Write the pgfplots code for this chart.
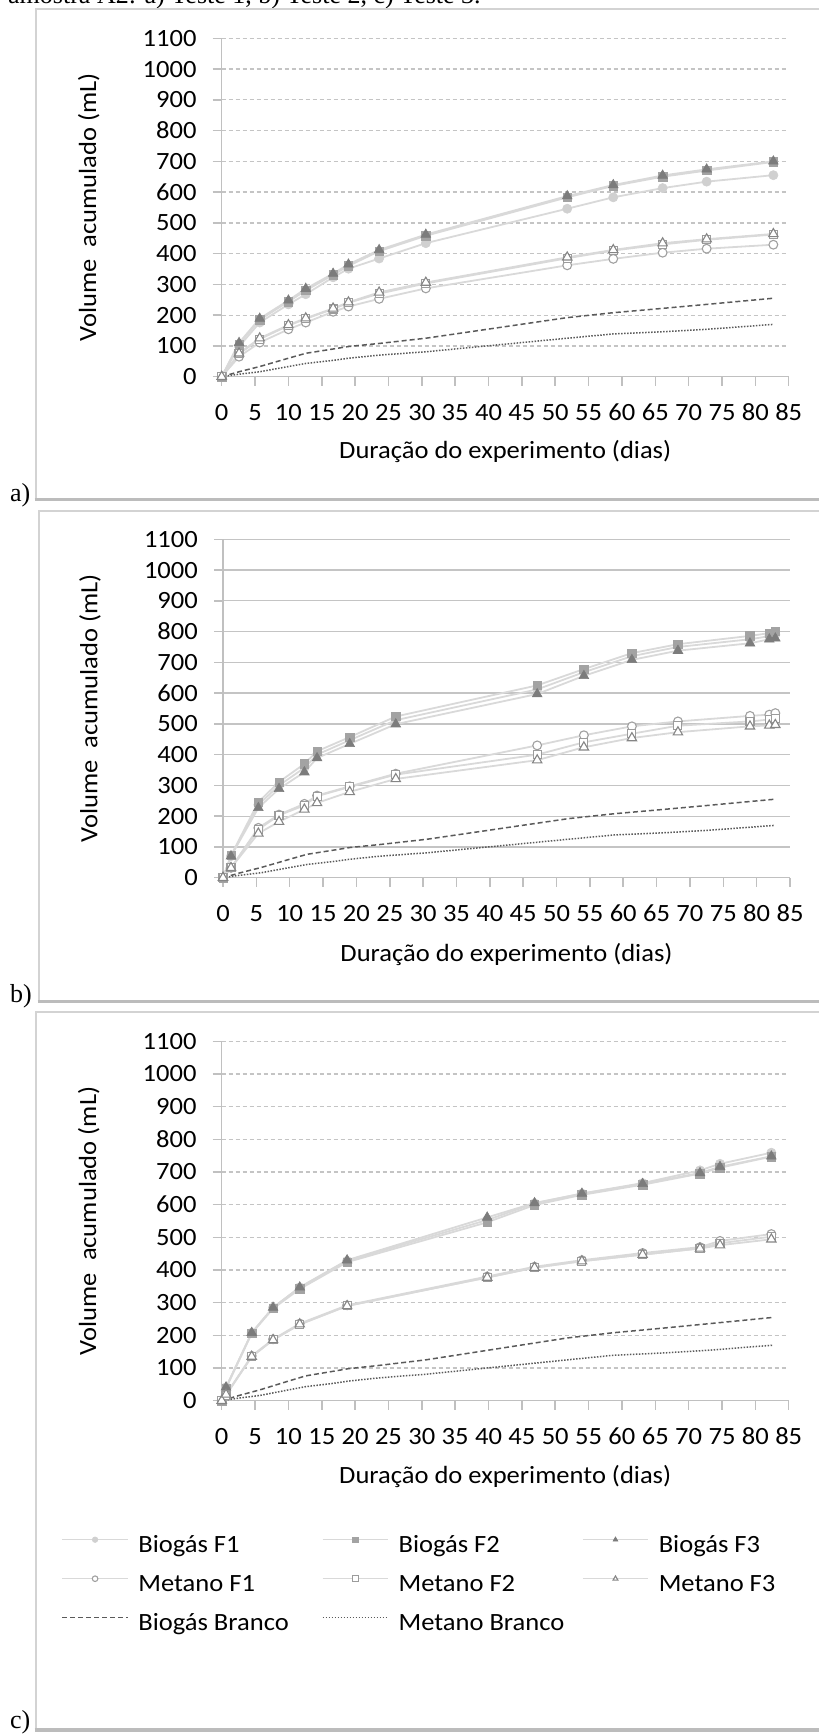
\documentclass[border=0pt]{standalone}
\usepackage{fontspec}
\setmainfont{Carlito}[FakeStretch=1.07]
\newfontfamily\timesfont{Liberation Serif}
\usepackage{pgfplots}
\usepackage{pgfplotstable}
\pgfplotsset{compat=1.18}

\definecolor{frameC}{HTML}{D3D3D3}
\definecolor{frameB}{HTML}{BCBCBC}
\definecolor{axisC}{HTML}{C0C0C0}
\definecolor{gridC}{HTML}{C4C4C4}
\definecolor{serieC}{HTML}{D9D9D9}
\definecolor{mkA}{HTML}{D0D0D0}
\definecolor{mkB}{HTML}{A3A3A3}
\definecolor{mkC}{HTML}{7C7C7C}
\definecolor{mkOA}{HTML}{A0A0A0}
\definecolor{mkOB}{HTML}{9C9C9C}
\definecolor{mkOC}{HTML}{858585}
\definecolor{blankC}{HTML}{5A5A5A}

\newcommand{\chartfont}{\fontsize{24.8bp}{29bp}\selectfont}
\newcommand{\capfont}{\timesfont\fontsize{26bp}{30bp}\selectfont}

% Teste 1
\pgfplotstableread{
dia  bF1 bF2 bF3 mF1 mF2 mF3
0    0   0   0   0   0   0
2.6  98  106 110 65  74  76
5.7  176 185 189 111 122 125
10.0 235 244 248 154 166 168
12.6 268 280 286 176 188 190
16.7 323 331 335 211 220 222
19.0 351 360 365 228 240 242
23.6 384 408 412 253 270 274
30.6 434 458 462 287 303 306
51.8 546 583 587 362 385 388
58.7 583 620 623 383 410 412
66.1 613 650 654 403 430 434
72.7 634 670 674 416 445 447
82.7 655 698 700 429 462 464
}\testeUm

% Teste 2
\pgfplotstableread{
dia  bF1 bF2 bF3 mF1 mF2 mF3
0    0   0   0   0   0   0
1.2  70  72  70  32  32  32
5.3  237 246 227 162 157 144
8.4  300 311 289 205 203 182
12.2 357 370 343 240 235 222
14.1 400 411 389 267 265 243
19.0 447 457 435 297 295 279
25.9 512 524 499 338 335 321
47.1 612 625 597 430 400 382
54.1 668 678 656 463 440 424
61.3 720 730 708 492 468 454
68.2 750 759 738 508 494 473
79.0 775 786 762 526 508 492
81.9 785 795 775 530 514 495
82.8 790 800 778 535 516 497
}\testeDois

% Teste 3
\pgfplotstableread{
dia  bF1 bF2 bF3 mF1 mF2 mF3
0    0   0   0   0   0   0
0.65 41  38  41  19  17  19
4.5  208 206 208 137 135 135
7.7  285 282 285 188 186 186
11.7 347 342 347 236 233 234
18.8 428 424 430 292 290 290
39.8 553 546 561 380 377 377
46.9 604 599 605 410 407 407
54.0 634 630 634 430 427 427
63.1 666 661 664 452 447 447
71.7 705 695 697 470 466 466
74.7 725 713 716 489 482 476
82.4 759 747 748 510 502 494
}\testeTres

% brancos (iguais nos tres testes)
\pgfplotstableread{
dia  bB  mB
0    0   0
2.6  16  8
5.7  33  16
10.0 60  33
12.6 76  43
16.7 90  53
19.0 98  60
23.6 108 70
30.6 125 81
51.8 192 125
58.7 208 139
66.1 222 146
72.7 235 154
82.7 255 170
}\branco

\pgfplotsset{
  painel/.style={
    scale only axis, width=567bp,
    xmin=0, xmax=85, ymin=0, ymax=1100,
    xtick={0,5,...,85}, ytick={0,100,...,1100},
    scaled ticks=false,
    /pgf/number format/1000 sep={},
    /pgf/number format/assume math mode=true,
    axis lines=left,
    axis line style={-, draw=axisC, line width=1.5bp},
    tick align=outside, major tick length=9bp,
    tick style={draw=axisC, line width=1.5bp},
    ymajorgrids,
    tick label style={font=\chartfont},
    xticklabel style={inner sep=0bp, anchor=center, yshift=-26.5bp},
    yticklabel style={inner sep=0bp, anchor=east, xshift=-16bp},
    label style={font=\chartfont},
    xlabel={Duração do experimento (dias)},
    ylabel={Volume\ \ acumulado (mL)},
    ylabel style={at={(axis description cs:-0.2346,0.5)}, anchor=center},
    clip=false,
  },
  sbA/.style={draw=serieC, line width=1.8bp, mark=*, mark size=4.6bp,
    mark options={solid, draw=mkA, fill=mkA, line width=0.6bp}},
  sbB/.style={draw=serieC, line width=1.8bp, mark=square*, mark size=4.2bp,
    mark options={solid, draw=mkB, fill=mkB, line width=0.6bp}},
  sbC/.style={draw=serieC, line width=1.8bp, mark=triangle*, mark size=5.6bp,
    mark options={solid, draw=mkC, fill=mkC, line width=0.6bp}},
  smA/.style={draw=serieC, line width=1.8bp, mark=*, mark size=4.4bp,
    mark options={solid, draw=mkOA, fill=white, line width=1.1bp}},
  smB/.style={draw=serieC, line width=1.8bp, mark=square*, mark size=4.0bp,
    mark options={solid, draw=mkOB, fill=white, line width=1.1bp}},
  smC/.style={draw=serieC, line width=1.8bp, mark=triangle*, mark size=5.4bp,
    mark options={solid, draw=mkOC, fill=white, line width=1.1bp}},
  sbk/.style={draw=blankC, line width=1.5bp, dash pattern=on 5bp off 3bp, mark=none},
  smk/.style={draw=blankC, line width=1.5bp, dash pattern=on 1.5bp off 1.5bp, mark=none},
}

\begin{document}
\begin{tikzpicture}
\useasboundingbox (0bp,0bp) rectangle (819bp,1735bp);

\begin{scope}[x=1bp, y=1bp]
  % legenda do documento (cortada no topo)
  \node[anchor=base west, inner sep=0pt, font=\capfont]
    at (8,1731) {amostra A2: a) Teste 1, b) Teste 2, c) Teste 3.};
  % molduras
  \draw[frameC, line width=2bp] (36,1235) -- (36,1726) -- (830,1726);
  \draw[frameB, line width=3bp] (34.5,1235) -- (830,1235);
  \draw[frameC, line width=2bp] (39,733) -- (39,1224.3) -- (830,1224.3);
  \draw[frameB, line width=3bp] (37.5,733) -- (830,733);
  \draw[frameC, line width=2bp] (36,5) -- (36,723.3) -- (830,723.3);
  \draw[frameB, line width=3bp] (34.5,5) -- (830,5);
  \node[anchor=base west, inner sep=0pt, font=\capfont] at (10,1233) {a)};
  \node[anchor=base west, inner sep=0pt, font=\capfont] at (10,732) {b)};
  \node[anchor=base west, inner sep=0pt, font=\capfont] at (10,7) {c)};
\end{scope}

% a) Teste 1
\begin{axis}[painel, at={(221.7bp,1358.3bp)}, anchor=south west, height=338.4bp,
  grid style={draw=gridC, line width=1.3bp, dash pattern=on 4bp off 3bp},
  xlabel style={at={(axis description cs:0.5,-0.2216)}, anchor=center}]
  \addplot[sbA] table[x=dia, y=bF1] {\testeUm};
  \addplot[sbB] table[x=dia, y=bF2] {\testeUm};
  \addplot[sbC] table[x=dia, y=bF3] {\testeUm};
  \addplot[smA] table[x=dia, y=mF1] {\testeUm};
  \addplot[smB] table[x=dia, y=mF2] {\testeUm};
  \addplot[smC] table[x=dia, y=mF3] {\testeUm};
  \addplot[sbk] table[x=dia, y=bB] {\branco};
  \addplot[smk] table[x=dia, y=mB] {\branco};
\end{axis}

% b) Teste 2
\begin{axis}[painel, at={(223bp,857.3bp)}, anchor=south west, height=338.4bp,
  grid style={draw=gridC, line width=1.3bp},
  xlabel style={at={(axis description cs:0.5,-0.2284)}, anchor=center}]
  \addplot[sbA] table[x=dia, y=bF1] {\testeDois};
  \addplot[sbB] table[x=dia, y=bF2] {\testeDois};
  \addplot[sbC] table[x=dia, y=bF3] {\testeDois};
  \addplot[smA] table[x=dia, y=mF1] {\testeDois};
  \addplot[smB] table[x=dia, y=mF2] {\testeDois};
  \addplot[smC] table[x=dia, y=mF3] {\testeDois};
  \addplot[sbk] table[x=dia, y=bB] {\branco};
  \addplot[smk] table[x=dia, y=mB] {\branco};
\end{axis}

% c) Teste 3
\begin{axis}[painel, at={(221.7bp,334.3bp)}, anchor=south west, height=359.4bp,
  grid style={draw=gridC, line width=1.3bp, dash pattern=on 4bp off 3bp},
  xlabel style={at={(axis description cs:0.5,-0.2123)}, anchor=center},
  legend columns=3,
  legend style={at={(axis description cs:-0.2824,-0.3723)}, anchor=north west,
    draw=none, fill=none, inner sep=0bp, row sep=15bp, font=\chartfont,
    nodes={inner sep=0bp, text height=18bp, text depth=6bp},
    /tikz/every odd column/.append style={column sep=10bp}},
  legend image code/.code={
    \draw[#1, line width=1.2bp, mark size=2.8bp, mark repeat=2, mark phase=2, yshift=7bp]
      plot coordinates {(0bp,0bp) (32.7bp,0bp) (65.4bp,0bp)};}]
  \addplot[sbA] table[x=dia, y=bF1] {\testeTres};
  \addlegendentry{\makebox[183.6bp][l]{Biogás F1}}
  \addplot[sbB] table[x=dia, y=bF2] {\testeTres};
  \addlegendentry{\makebox[183.6bp][l]{Biogás F2}}
  \addplot[sbC] table[x=dia, y=bF3] {\testeTres};
  \addlegendentry{\makebox[183.6bp][l]{Biogás F3}}
  \addplot[smA] table[x=dia, y=mF1] {\testeTres};
  \addlegendentry{\makebox[183.6bp][l]{Metano F1}}
  \addplot[smB] table[x=dia, y=mF2] {\testeTres};
  \addlegendentry{\makebox[183.6bp][l]{Metano F2}}
  \addplot[smC] table[x=dia, y=mF3] {\testeTres};
  \addlegendentry{\makebox[183.6bp][l]{Metano F3}}
  \addplot[sbk] table[x=dia, y=bB] {\branco};
  \addlegendentry{\makebox[183.6bp][l]{Biogás Branco}}
  \addplot[smk] table[x=dia, y=mB] {\branco};
  \addlegendentry{\makebox[183.6bp][l]{Metano Branco}}
\end{axis}
\end{tikzpicture}
\end{document}
